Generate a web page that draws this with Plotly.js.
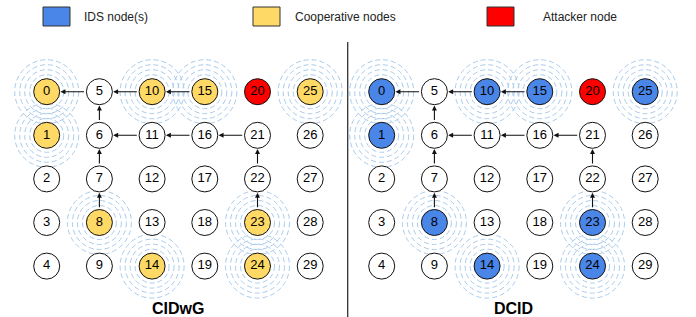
<!DOCTYPE html>
<html>
<head>
<meta charset="utf-8">
<script src="https://cdn.plot.ly/plotly-3.0.1.min.js"></script>
<style>html,body{margin:0;padding:0;background:#fff;}#chart{width:696px;height:317px;}</style>
</head>
<body>
<div id="chart"></div>
<script>
// ---------- data ----------
const nodeIds = [0,1,2,3,4,5,6,7,8,9,10,11,12,13,14,15,16,17,18,19,20,21,22,23,24,25,26,27,28,29];
const defendingNodes = [0,1,8,10,14,15,23,24,25];   // cooperative (left) / IDS (right)
const attackerNodes = [20];
const edgeFrom = [5,10,15,6,11,16,21,7,22,8,23];
const edgeTo   = [0,5,10,5,6,11,16,6,21,7,22];
const panelTitles = ['CIDwG','DCID'];
const panelRoles = ['Cooperative nodes','IDS node(s)'];
const legendLabels = ['IDS node(s)','Cooperative nodes','Attacker node'];
const ringRadii = [17,22,27,32];

// ---------- styles / layout constants ----------
const W = 696, H = 317;
const FONT = 'Liberation Sans, Arial, sans-serif';
const roleColor = {'IDS node(s)':'#4a86e8','Cooperative nodes':'#ffd966','Attacker node':'#ff0000'};
const panelCol0 = [46.7, 381.7], colStep = 52.7;
const row0 = 91.7, rowStep = 43.6;
const xr = [-0.8, 5.8];

function colOf(id){ return Math.floor(id/5); }
function rowOf(id){ return id % 5; }

const layout = {
  width: W, height: H,
  margin: {l:0,r:0,t:0,b:0},
  paper_bgcolor: '#fff', plot_bgcolor: 'rgba(0,0,0,0)',
  showlegend: false,
  font: {family: FONT, color: '#000'},
  yaxis: {range: [(H-row0)/rowStep, -row0/rowStep], domain:[0,1], visible:false, fixedrange:true},
  shapes: [], annotations: []
};

const traces = [];
panelTitles.forEach((title, p) => {
  const xa = p === 0 ? 'x' : 'x2';
  const axKey = p === 0 ? 'xaxis' : 'xaxis2';
  const left = panelCol0[p] + xr[0]*colStep, right = panelCol0[p] + xr[1]*colStep;
  layout[axKey] = {range: xr, domain: [left/W, right/W], anchor: 'y', visible:false, fixedrange:true};

  const colors = nodeIds.map(id => {
    if (attackerNodes.includes(id)) return roleColor['Attacker node'];
    if (defendingNodes.includes(id)) return roleColor[panelRoles[p]];
    return '#ffffff';
  });

  // rings
  defendingNodes.forEach(id => {
    ringRadii.forEach(r => {
      layout.shapes.push({
        type:'circle', layer:'below', xref:xa, yref:'y',
        xsizemode:'pixel', ysizemode:'pixel',
        xanchor: colOf(id), yanchor: rowOf(id),
        x0:-r, x1:r, y0:-r, y1:r,
        line:{color:'#a8cbec', width:1, dash:'5px,3px'}
      });
    });
  });

  // arrows
  edgeFrom.forEach((s, i) => {
    const t = edgeTo[i];
    layout.annotations.push({
      xref: xa, yref:'y', axref: xa, ayref:'y',
      x: colOf(t), y: rowOf(t), ax: colOf(s), ay: rowOf(s),
      text:'', showarrow:true, arrowhead:2, arrowsize:0.9, arrowwidth:1.1,
      arrowcolor:'#111', standoff:13.8, startstandoff:13.8
    });
  });

  traces.push({
    type:'scatter', mode:'markers+text', xaxis: xa, yaxis:'y',
    x: nodeIds.map(colOf), y: nodeIds.map(rowOf),
    text: nodeIds.map(String), textposition:'middle center',
    textfont:{family:FONT, size:13, color:'#000'},
    marker:{size:26, color:colors, line:{color:'#111', width:1}},
    hoverinfo:'none', cliponaxis:false
  });

  // panel title
  layout.annotations.push({
    xref: xa, yref:'paper', x: 2.5, y: 1 - 308/H, yanchor:'middle',
    text: '<b>'+title+'</b>', showarrow:false,
    font:{family:FONT, size:16, color:'#000'}
  });
});

// divider
layout.shapes.push({type:'line', xref:'paper', yref:'paper', x0:347.7/W, x1:347.7/W, y0:0, y1:1-42/H,
  line:{color:'#333', width:1.3}});

// legend
const legBoxX = [43, 253, 487], legTextX = [81.7, 292.5, 541];
legendLabels.forEach((lab, i) => {
  layout.shapes.push({type:'rect', xref:'paper', yref:'paper',
    x0: legBoxX[i]/W, x1: (legBoxX[i]+27)/W, y0: 1-26/H, y1: 1-7/H,
    fillcolor: roleColor[lab], line:{color:'#333', width:1}});
  layout.annotations.push({xref:'paper', yref:'paper', x: legTextX[i]/W, y: 1-17/H,
    xanchor:'left', yanchor:'middle', text: lab, showarrow:false,
    font:{family:FONT, size:12, color:'#222'}});
});

Plotly.newPlot('chart', traces, layout, {staticPlot:true, displayModeBar:false});
</script>
</body>
</html>
